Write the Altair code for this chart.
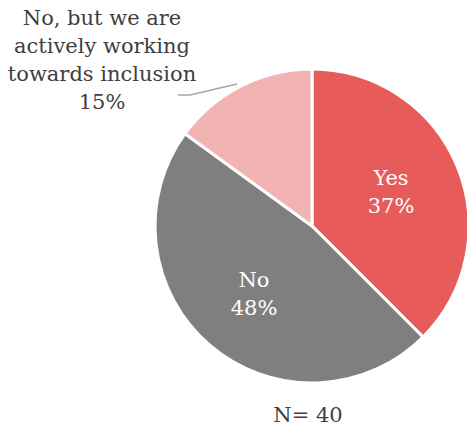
import altair as alt
import pandas as pd

categories = ["Yes", "No", "No, but we are actively working towards inclusion"]
counts = [15, 19, 6]
pct_labels = ["37%", "48%", "15%"]
colors = ["#E85B5B", "#7F7F7F", "#F2B3B3"]

df = pd.DataFrame({"cat": categories, "count": counts, "order": [0, 1, 2]})

FONT = "DejaVu Serif"
FS = 21
CX, CY, R = 312, 226, 157

pie = alt.Chart(df).mark_arc(outerRadius=R, stroke="white", strokeWidth=3).encode(
    theta=alt.Theta("count:Q", stack=True),
    order=alt.Order("order:Q"),
    color=alt.Color("cat:N", scale=alt.Scale(domain=categories, range=colors), legend=None),
    x=alt.value(CX), y=alt.value(CY),
)

inner = pd.DataFrame({
    "t": [[categories[0], pct_labels[0]], [categories[1], pct_labels[1]]],
    "px": [391, 254], "py": [179, 281],
})
inner_text = alt.Chart(inner).mark_text(
    font=FONT, fontSize=FS, color="white", lineHeight=28, align="center", baseline="middle"
).encode(text="t", x=alt.X("px:Q", scale=None), y=alt.Y("py:Q", scale=None))

outer = pd.DataFrame({
    "t": [["No, but we are", "actively working", "towards inclusion", pct_labels[2]]],
    "px": [102], "py": [19],
})
outer_text = alt.Chart(outer).mark_text(
    font=FONT, fontSize=FS, color="#404040", lineHeight=28, align="center", baseline="middle"
).encode(text="t", x=alt.X("px:Q", scale=None), y=alt.Y("py:Q", scale=None))

lead1 = alt.Chart(df.head(1)).mark_rule(color="#A6A6A6", strokeWidth=1.5).encode(
    x=alt.value(178), y=alt.value(95), x2=alt.value(190), y2=alt.value(95))
lead2 = alt.Chart(df.head(1)).mark_rule(color="#A6A6A6", strokeWidth=1.5).encode(
    x=alt.value(190), y=alt.value(95), x2=alt.value(237), y2=alt.value(84))

ntext = alt.Chart(pd.DataFrame({"t": ["N= 40"]})).mark_text(
    font=FONT, fontSize=FS, color="#404040", align="center", baseline="middle"
).encode(text="t", x=alt.value(308), y=alt.value(416))

chart = alt.layer(pie, lead1, lead2, inner_text, outer_text, ntext).properties(
    width=467, height=442, padding=0, autosize="none"
).configure_view(stroke=None)

chart.save("out.html", embed_options={"renderer": "svg", "actions": False})
